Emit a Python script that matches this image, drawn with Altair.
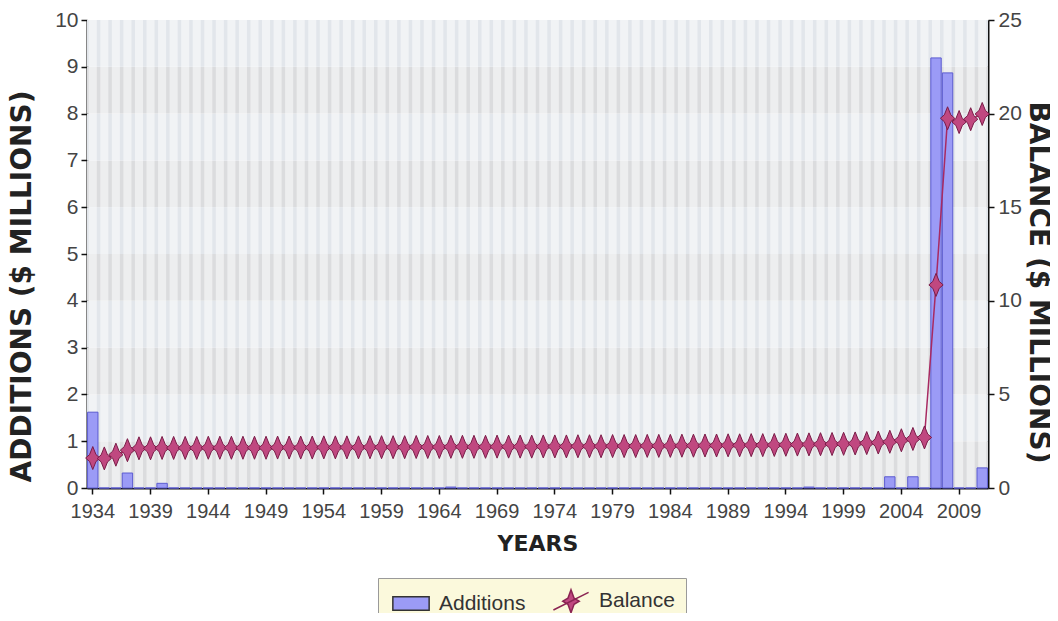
import altair as alt
import pandas as pd

years = list(range(1934, 2012))

additions = [
    1.62, 0, 0, 0.32, 0, 0, 0.1, 0, 0, 0,
    0, 0, 0, 0, 0, 0, 0, 0, 0, 0,
    0, 0, 0, 0, 0, 0, 0, 0, 0, 0,
    0, 0.02, 0, 0, 0, 0, 0, 0, 0, 0,
    0, 0, 0, 0, 0, 0, 0, 0, 0, 0,
    0, 0, 0, 0, 0, 0, 0, 0, 0, 0,
    0, 0, 0.02, 0, 0, 0, 0, 0, 0, 0.24,
    0, 0.24, 0, 9.19, 8.87, 0, 0, 0.43,
]

balance = [
    1.6, 1.58, 1.78, 2.02, 2.12, 2.12, 2.14, 2.14, 2.14, 2.14,
    2.15, 2.15, 2.15, 2.15, 2.15, 2.15, 2.16, 2.16, 2.16, 2.16,
    2.17, 2.17, 2.17, 2.17, 2.18, 2.18, 2.18, 2.18, 2.19, 2.19,
    2.19, 2.2, 2.2, 2.2, 2.2, 2.21, 2.21, 2.21, 2.21, 2.22,
    2.22, 2.22, 2.23, 2.23, 2.23, 2.24, 2.24, 2.24, 2.25, 2.25,
    2.25, 2.26, 2.26, 2.27, 2.27, 2.28, 2.28, 2.29, 2.29, 2.3,
    2.31, 2.32, 2.33, 2.34, 2.35, 2.36, 2.38, 2.4, 2.43, 2.47,
    2.55, 2.62, 2.7, 10.85, 19.75, 19.55, 19.7, 19.98,
]

x_ticks = [1934, 1939, 1944, 1949, 1954, 1959, 1964, 1969, 1974, 1979,
           1984, 1989, 1994, 1999, 2004, 2009]
left_ticks = [0, 1, 2, 3, 4, 5, 6, 7, 8, 9, 10]
right_ticks = [0, 5, 10, 15, 20, 25]
series_names = ["Additions", "Balance"]

# background horizontal bands (styling only)
band_lo = list(range(10))
band_hi = list(range(1, 11))
band_shade = ["dark" if lo % 2 == 0 else "light" for lo in band_lo]

W, H = 901, 468
FONT = "Liberation Sans"
TFONT = "DejaVu Sans"

add_df = pd.DataFrame({"year": years, "value": additions})
bal_df = pd.DataFrame({"year": years, "value": balance})
bands_df = pd.DataFrame({"lo": band_lo, "hi": band_hi, "shade": band_shade})
stripes_df = pd.DataFrame({"year": years})
legend_df = pd.DataFrame({"year": [years[0], years[0]], "value": [-1, -1], "series": series_names})

x_scale = alt.Scale(domain=years, paddingInner=0, paddingOuter=0)
x_axis = alt.Axis(
    values=x_ticks, labelAngle=0, title="YEARS", grid=False,
    domainColor="#111", domainWidth=2, tickColor="#111", tickWidth=1.5, tickSize=6,
    labelFont=FONT, labelFontSize=20, labelColor="#444", labelPadding=7,
    titleFont=TFONT, titleFontSize=22, titleFontWeight="bold", titleColor="#222",
    titlePadding=12,
)

left_scale = alt.Scale(domain=[0, 10], nice=False, zero=True)
left_axis = alt.Axis(
    values=left_ticks, title="ADDITIONS ($ MILLIONS)", grid=False,
    domainColor="#111", domainWidth=2, tickColor="#111", tickWidth=1.5, tickSize=6,
    labelFont=FONT, labelFontSize=21, labelColor="#444", labelPadding=3,
    titleFont=TFONT, titleFontSize=28, titleFontWeight="bold", titleColor="#222",
    titleX=-51, titleY=266,
)
right_scale = alt.Scale(domain=[0, 25], nice=False, zero=True)
right_axis = alt.Axis(
    orient="right", values=right_ticks, title="BALANCE ($ MILLIONS)", grid=False,
    domainColor="#111", domainWidth=2, tickColor="#111", tickWidth=1.5, tickSize=6,
    labelFont=FONT, labelFontSize=21, labelColor="#444", labelPadding=4,
    titleFont=TFONT, titleFontSize=28, titleFontWeight="bold", titleColor="#222",
    titleX=35, titleY=262,
)

RECT_PATH = "M-1.65,-0.62H1.65V0.62H-1.65Z"
LEG_STAR = ("M-1.6,0.8L1.6,-0.8M0,-1.05L0.28,-0.28L0.75,0L0.28,0.28L0,1.05"
            "L-0.28,0.28L-0.75,0L-0.28,-0.28Z")
STAR = "M0,-1L0.28,-0.3L0.62,0L0.28,0.3L0,1L-0.28,0.3L-0.62,0L-0.28,-0.3Z"

legend = alt.Legend(
    orient="none", legendX=291, legendY=558, direction="horizontal", title=None,
    fillColor="#fbf9dc", strokeColor="#9a9a9a", padding=11,
    labelFont=FONT, labelFontSize=21, labelColor="#333", labelOffset=16,
    symbolSize=484, symbolOffset=10, columnPadding=23, symbolStrokeWidth=1.5,
    symbolOpacity=1,
)

bands = alt.Chart(bands_df).mark_rect().encode(
    x=alt.value(0), x2=alt.value(W),
    y=alt.Y("lo:Q", scale=left_scale, axis=left_axis),
    y2="hi:Q",
    fill=alt.Fill("shade:N", scale=alt.Scale(domain=["dark", "light"], range=["#dbdcde", "#e2e6eb"]), legend=None),
)

stripes = alt.Chart(stripes_df).mark_bar(
    width=alt.RelativeBandSize(0.7), color="white", opacity=0.5
).encode(
    x=alt.X("year:O", scale=x_scale, axis=x_axis),
    y=alt.datum(0, scale=left_scale, axis=left_axis),
    y2=alt.datum(10),
)

bars = alt.Chart(add_df).mark_bar(
    width=alt.RelativeBandSize(0.9), color="#9b9bf6", stroke="#5b5bd0", strokeWidth=1, opacity=1
).encode(
    x=alt.X("year:O", scale=x_scale, axis=x_axis),
    y=alt.Y("value:Q", scale=left_scale, axis=left_axis),
)

left = alt.layer(bands, stripes, bars)

line = alt.Chart(bal_df).mark_line(color="#a82a62", strokeWidth=1.5).encode(
    x=alt.X("year:O", scale=x_scale, axis=x_axis),
    y=alt.Y("value:Q", scale=right_scale, axis=right_axis),
)
points = alt.Chart(bal_df).mark_point(
    shape=STAR, size=530, filled=True, fill="#c04880", stroke="#7a1c48", strokeWidth=1, opacity=1
).encode(
    x=alt.X("year:O", scale=x_scale, axis=x_axis),
    y=alt.Y("value:Q", scale=right_scale, axis=right_axis),
)
legend_layer = alt.Chart(legend_df).transform_filter("datum.value > 0").mark_point(
    filled=True, size=484, opacity=1, strokeWidth=1.5
).encode(
    x=alt.X("year:O", scale=x_scale, axis=x_axis),
    y=alt.Y("value:Q", scale=right_scale, axis=right_axis),
    color=alt.Color("series:N", scale=alt.Scale(domain=series_names, range=["#9b9bf6", "#c04880"]), legend=legend),
    shape=alt.Shape("series:N", scale=alt.Scale(domain=series_names, range=[RECT_PATH, LEG_STAR]), legend=legend),
    stroke=alt.Stroke("series:N", scale=alt.Scale(domain=series_names, range=["#333333", "#8a2352"]), legend=legend),
)
right = alt.layer(line, points, legend_layer)

chart = alt.layer(left, right).resolve_scale(y="independent").properties(
    width=W, height=H,
    autosize=alt.AutoSizeParams(type="none"),
    padding={"left": 79, "top": 12, "right": 62, "bottom": 125},
).configure_view(stroke="#9a9a9a", strokeWidth=1).configure(background="white")

chart.save("out.html", embed_options={"renderer": "svg", "actions": False})
